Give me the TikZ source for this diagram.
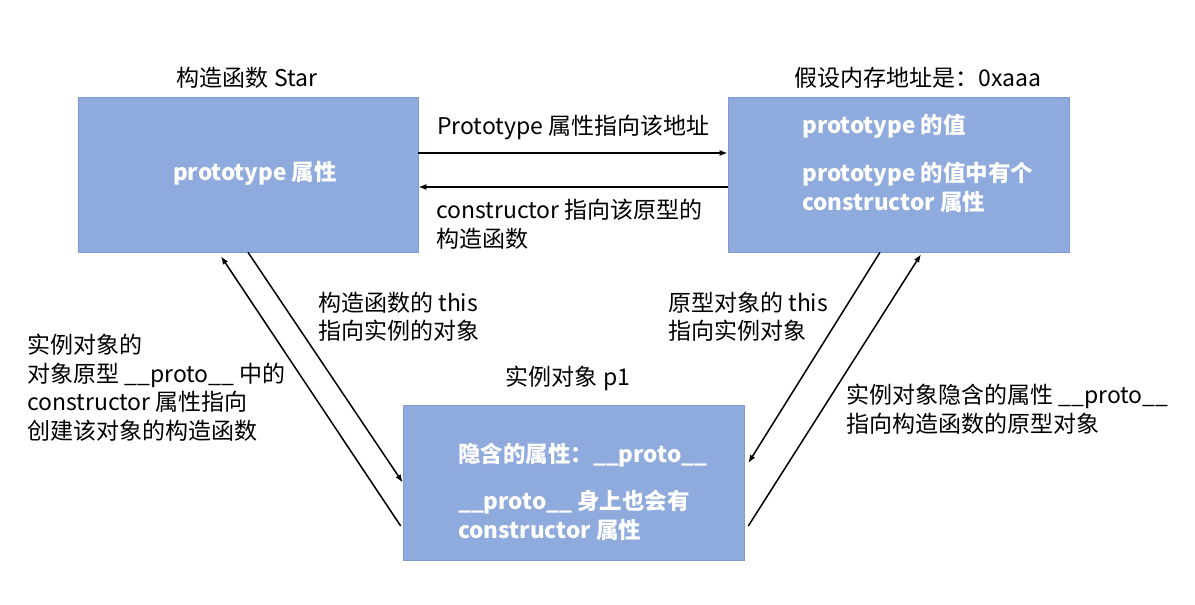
\documentclass[tikz,border=0pt]{standalone}
\usepackage{fontspec}
\newfontfamily\cjk{Noto Sans CJK SC}
\usetikzlibrary{arrows.meta}
\definecolor{boxblue}{HTML}{8FAADC}
\definecolor{boxedge}{HTML}{7F9BCB}

\begin{document}
\begin{tikzpicture}[x=1pt, y=-1pt,
  font=\cjk\fontsize{23}{28.5}\selectfont,
  box/.style={rectangle, fill=boxblue, draw=boxedge, line width=0.6pt,
    minimum width=340pt, minimum height=155pt, inner sep=0pt},
  intext/.style={text=white, font=\cjk\bfseries\fontsize{22.5}{29}\selectfont,
    anchor=west, inner sep=0pt},
  note/.style={anchor=west, inner sep=0pt, align=left},
  link/.style={-{Latex[length=8pt,width=6pt]}, line width=1.5pt}]
  \useasboundingbox (0,0) rectangle (1195,605);
  % the three objects
  \node(star)[box] at (248,174.5) {};
  \node(proto)[box, minimum width=341pt] at (898.5,174.5) {};
  \node(p1)[box, minimum width=341pt] at (573.5,482.5) {};
  \node(starlbl) at (247,78) {构造函数 Star};
  \node(protolbl) at (918,78) {假设内存地址是：0xaaa};
  \node(p1lbl) at (568,378) {实例对象 p1};
  % texts in the boxes
  \node(starprop)[intext, anchor=center] at (255,173) {prototype 属性};
  \node(val)[intext] at (802,126) {prototype 的值};
  \node(valctor)[intext, align=left] at (802,187.5) {prototype 的值中有个\\constructor 属性};
  \node(hidden)[intext] at (458,455) {隐含的属性：\_\_proto\_\_};
  \node(hidctor)[intext, align=left] at (458,515) {\_\_proto\_\_ 身上也会有\\constructor 属性};
  % notes on the links
  \node(protonote)[note] at (437,127) {Prototype 属性指向该地址};
  \node(ctornote)[note] at (436,224) {constructor 指向该原型的\\构造函数};
  \node(thisnote)[note] at (318,316.5) {构造函数的 this\\指向实例的对象};
  \node(protothis)[note] at (668,316.5) {原型对象的 this\\指向实例对象};
  \node(leftnote)[note] at (27,387.5) {实例对象的\\对象原型 \_\_proto\_\_ 中的\\constructor 属性指向\\创建该对象的构造函数};
  \node(rightnote)[note] at (846,409) {实例对象隐含的属性 \_\_proto\_\_\\指向构造函数的原型对象};
  % links
  \draw[link] ([yshift=21.5pt]star.east) -- ([yshift=21.5pt]proto.west);
  \draw[link] ([yshift=-12.5pt]proto.west) -- ([yshift=-12.5pt]star.east);
  \draw[link] (star.south) -- (p1.west);
  \draw[link] ([xshift=-2pt, yshift=-43.5pt]p1.west) -- ([xshift=-27pt, yshift=-4pt]star.south);
  \draw[link] ([xshift=-18.5pt]proto.south) -- ([xshift=4pt, yshift=19.5pt]p1.east);
  \draw[link] ([xshift=4pt, yshift=-43.5pt]p1.east) -- ([xshift=22.5pt, yshift=-2pt]proto.south);
\end{tikzpicture}
\end{document}
